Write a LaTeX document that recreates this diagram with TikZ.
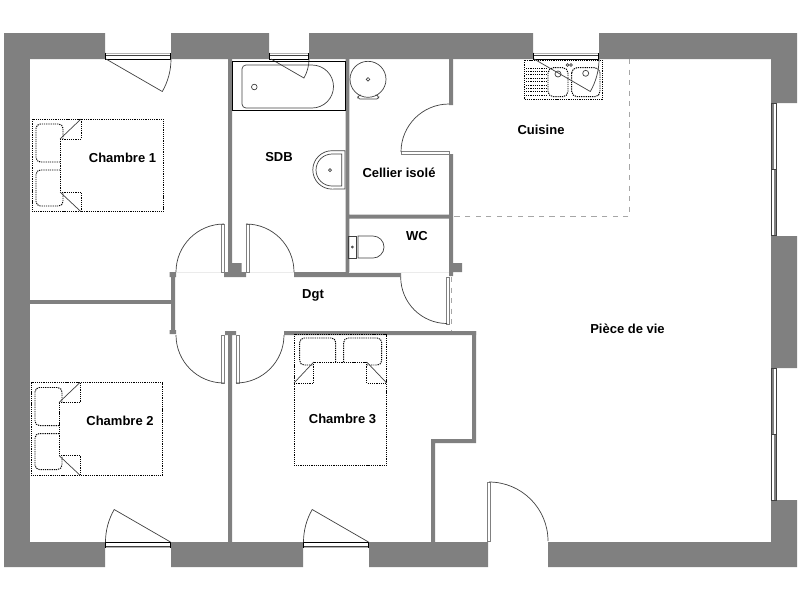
\documentclass[tikz,border=0pt]{standalone}
\usepackage{fontspec}
\setmainfont{Liberation Sans}
\usepackage{xcolor}
\definecolor{gris}{HTML}{808080}
\tikzset{
  pics/lit/.style={code={
    \draw[litpoint] (0,0) rectangle (131.5,92.7);
    \draw[litpoint] (28,20) -- (28,73);
    \draw[litpoint, rounded corners=2.5pt] (28,43) -- (4,43) -- (4,5) -- (31,5) -- (31,20);
    \draw[litpoint, rounded corners=2.5pt] (28,51) -- (4,51) -- (4,87) -- (31,87) -- (31,73);
    \draw[litpoint] (28,20) -- (49,20) -- (49,0);
    \draw[litpoint] (28,73) -- (49,73) -- (49,92.7);
    \draw[trait] (28,20) -- (49,0);
    \draw[trait] (28,73) -- (49,92.7);
  }}
}
\begin{document}
\begin{tikzpicture}[x=0.02cm, y=-0.02cm, every node/.style={font=\fontsize{7.4pt}{9pt}\selectfont\bfseries, inner sep=0pt}]
\tikzstyle{mur}=[fill=gris]
\tikzstyle{trait}=[line width=0.4pt, black!75]
\tikzstyle{litpoint}=[line width=0.55pt, black, dash pattern=on 0.7pt off 0.55pt]
\tikzstyle{vantail}=[line width=0.55pt, draw=black!50, fill=white]
\tikzstyle{fin}=[line width=0.4pt, black!8]
\useasboundingbox (0,0) rectangle (800,600);

% Murs exterieurs
\fill[mur] (4,33) rectangle (105,59) (171,33) rectangle (269,59)
  (309,33) rectangle (533,59) (599,33) rectangle (797,59);
\fill[mur] (4,59) rectangle (30,542);
\fill[mur] (4,542) rectangle (105,567) (171,542) rectangle (303,567)
  (369,542) rectangle (488,567) (548,542) rectangle (797,567);
\fill[mur] (771,59) rectangle (797,103) (771,236) rectangle (797,368)
  (771,500) rectangle (797,542);

% Cloisons
\fill[mur] (228,59) rectangle (232,272) (228,263) rectangle (241.5,272) (224,272) rectangle (246,277);
\fill[mur] (171,272) rectangle (175,334) (169.5,272) rectangle (176,277) (169.5,330) rectangle (176,334);
\fill[mur] (30,300) rectangle (171,304);
\fill[mur] (225,331) rectangle (236,335) (228,335) rectangle (232,542);
\fill[mur] (294,272) rectangle (401,277) (284,331) rectangle (476,335);
\fill[mur] (345.7,59) rectangle (349.3,272) (349,214.5) rectangle (449,218.5);
\fill[mur] (449,59) rectangle (453,105) (449,154) rectangle (453,276) (453,263) rectangle (462,272);
\fill[mur] (472,331) rectangle (476,443) (431,439) rectangle (476,443) (431,439) rectangle (435,542);

% Seuils et zone cuisine
\draw[fin] (176,272) -- (224,272);
\draw[fin] (246,272) -- (294,272);
\draw[fin] (349,272) -- (449,272);
\draw[black!35, line width=0.4pt, dashed] (629,59) -- (629,216.5) -- (453,216.5);
\draw[black!35, line width=0.4pt, dashed] (451.7,277) -- (451.7,331);

% Fenetres haut
\foreach \xa/\xb in {105.5/170.5, 269.5/308.5, 533.5/598.5} {
  \fill[gris!60] (\xa,52.7) rectangle (\xb,54.2);
  \draw[trait, fill=white] (\xa,55) rectangle (\xb,59);
  \draw[black, line width=0.5pt] (\xa,52.7) -- (\xa,59) -- (\xb,59) -- (\xb,52.7);
}
% Fenetres bas
\foreach \xa/\xb in {105.5/170.5, 303.5/368.5} {
  \fill[gris!60] (\xa,546.3) rectangle (\xb,547.8);
  \draw[trait, fill=white] (\xa,542) rectangle (\xb,546);
  \draw[black, line width=0.5pt] (\xa,547.8) -- (\xa,542) -- (\xb,542) -- (\xb,547.8);
}
% Fenetres droite
\foreach \ya in {103, 368} {
  \fill[gris] (771,\ya) rectangle (773.5,\ya+66);
  \fill[gris] (773.5,\ya+66) rectangle (776,\ya+132.5);
  \draw[trait] (771,\ya) rectangle (776,\ya+66);
  \draw[trait] (771,\ya+66) rectangle (776,\ya+132.5);
}

% Ouvrants des fenetres
\draw[trait] (106,59) -- ++(30:65) arc (30:0:65);
\draw[trait] (271,59) -- ++(30:38) arc (30:0:38);
\draw[trait] (170.5,542) -- ++(210:65) arc (210:180:65);
\draw[trait] (368.5,542) -- ++(210:65) arc (210:180:65);

% Portes
\draw[vantail] (221,224) rectangle (224,272);
\draw[trait] (176,272) arc (180:270:48);
\draw[vantail] (246,224) rectangle (249,272);
\draw[trait] (294,272) arc (0:-90:48);
\draw[vantail] (221.5,335) rectangle (224.5,383);
\draw[trait] (176,335) arc (180:90:48);
\draw[vantail] (236,335) rectangle (239,383);
\draw[trait] (284,335) arc (0:90:48);
\draw[vantail] (446,277) rectangle (449,324);
\draw[trait] (400.7,277) arc (180:90:46.5);
\draw[vantail] (401,151) rectangle (449,154);
\draw[trait] (401,152) arc (180:270:48);
\draw[vantail] (487,482) rectangle (490,541);
\draw[trait] (548,541) arc (0:-90:59);

% Lits
\pic at (32,119) {lit};
\pic at (31,382.5) {lit};
\pic[rotate=-90] at (386.7,334) {lit};

% Baignoire
\draw[trait, black] (232.3,61.7) rectangle (345.3,110.7);
\draw[trait] (312,65) arc (-90:90:21.5) -- (246,108) arc (90:180:4) -- (242,69) arc (180:270:4) -- cycle;
\draw[trait] (254.3,87) circle (2.8);

% Chauffe-eau
\draw[trait] (368,79.3) circle (18);
\draw[trait] (368,79.3) circle (1.8);
\draw[trait, rounded corners=1pt] (361,95) -- (357.5,96) -- (358,99) -- (378.5,99) -- (379,96) -- (375.5,95);

% Lavabo
\draw[trait] (345,150.7) -- (332,150.7) arc (270:90:19.2) -- (345,189) -- cycle;
\draw[trait] (341.7,154) -- (332,154) arc (270:90:16) -- (341.7,186) -- cycle;
\draw[trait] (330,170) circle (1.5);

% WC
\draw[trait] (348,236) rectangle (356.7,258);
\draw[trait] (358,236) -- (373,236) arc (-90:90:11) -- (358,258) -- cycle;
\draw[trait] (352.3,247) circle (1);

% Evier
\draw[litpoint] (524.3,60) rectangle (602.3,99.3);
\foreach \yh in {68,71.4,...,95.3} {
  \draw[litpoint] (526,\yh) -- (546,\yh);
}
\draw[litpoint, rounded corners=3pt] (548,67.7) rectangle (568,96.7);
\draw[litpoint, rounded corners=3pt] (571.7,67.7) rectangle (600,96.7);
\draw[trait] (558,74) circle (3);
\draw[trait] (585.7,73.3) circle (3);
\draw[trait] (567.5,65) circle (1.3);
\draw[trait] (571,65) circle (1.3);
\draw[trait] (534,59) -- ++(30:65) arc (30:0:65);

% Pieces
\node (ch1) at (122.5,158) {Chambre 1};
\node (ch2) at (120,421) {Chambre 2};
\node (ch3) at (342.5,418.5) {Chambre 3};
\node (sdb) at (279,157) {SDB};
\node (cellier) at (399,172.5) {Cellier isolé};
\node (wc) at (417,236.5) {WC};
\node (dgt) at (313,295) {Dgt};
\node (cuisine) at (541,129.5) {Cuisine};
\node (vie) at (627.5,328.5) {Pièce de vie};

\end{tikzpicture}
\end{document}
